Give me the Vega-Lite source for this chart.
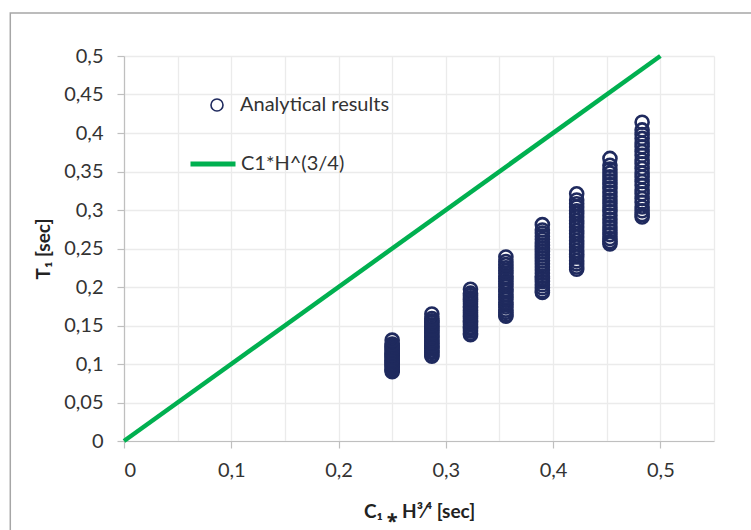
{
  "$schema": "https://vega.github.io/schema/vega-lite/v6.json",
  "width": 590,
  "height": 385,
  "autosize": {"type": "none"},
  "padding": {"left": 124, "top": 56, "right": 37, "bottom": 89},
  "background": "white",
  "config": {
    "view": {"stroke": null},
    "font": "Lato",
    "axis": {
      "labelFont": "Lato", "labelFontSize": 20, "labelColor": "#333333", "labelOverlap": false,
      "titleFont": "Lato", "titleFontSize": 19, "titleFontWeight": "bold", "titleColor": "#222222",
      "domainColor": "#BFBFBF", "domainWidth": 1.2,
      "tickColor": "#BFBFBF", "tickWidth": 1.2, "tickSize": 7,
      "gridColor": "#EBEBEB", "gridWidth": 1.3
    },
    "legend": {"labelFont": "Lato", "labelFontSize": 20, "labelColor": "#333333", "padding": 0}
  },
  "datasets": {
    "points": [
      {"series":"Analytical results","x":0.25,"y":0.090},{"series":"Analytical results","x":0.25,"y":0.092},{"series":"Analytical results","x":0.25,"y":0.093},{"series":"Analytical results","x":0.25,"y":0.095},{"series":"Analytical results","x":0.25,"y":0.097},{"series":"Analytical results","x":0.25,"y":0.099},{"series":"Analytical results","x":0.25,"y":0.100},{"series":"Analytical results","x":0.25,"y":0.102},{"series":"Analytical results","x":0.25,"y":0.104},{"series":"Analytical results","x":0.25,"y":0.105},{"series":"Analytical results","x":0.25,"y":0.107},{"series":"Analytical results","x":0.25,"y":0.109},{"series":"Analytical results","x":0.25,"y":0.111},{"series":"Analytical results","x":0.25,"y":0.112},{"series":"Analytical results","x":0.25,"y":0.114},{"series":"Analytical results","x":0.25,"y":0.116},{"series":"Analytical results","x":0.25,"y":0.118},{"series":"Analytical results","x":0.25,"y":0.120},{"series":"Analytical results","x":0.25,"y":0.122},{"series":"Analytical results","x":0.25,"y":0.124},{"series":"Analytical results","x":0.25,"y":0.126},{"series":"Analytical results","x":0.25,"y":0.131},
      {"series":"Analytical results","x":0.287,"y":0.110},{"series":"Analytical results","x":0.287,"y":0.112},{"series":"Analytical results","x":0.287,"y":0.115},{"series":"Analytical results","x":0.287,"y":0.117},{"series":"Analytical results","x":0.287,"y":0.120},{"series":"Analytical results","x":0.287,"y":0.122},{"series":"Analytical results","x":0.287,"y":0.124},{"series":"Analytical results","x":0.287,"y":0.127},{"series":"Analytical results","x":0.287,"y":0.129},{"series":"Analytical results","x":0.287,"y":0.131},{"series":"Analytical results","x":0.287,"y":0.134},{"series":"Analytical results","x":0.287,"y":0.136},{"series":"Analytical results","x":0.287,"y":0.139},{"series":"Analytical results","x":0.287,"y":0.141},{"series":"Analytical results","x":0.287,"y":0.144},{"series":"Analytical results","x":0.287,"y":0.146},{"series":"Analytical results","x":0.287,"y":0.149},{"series":"Analytical results","x":0.287,"y":0.151},{"series":"Analytical results","x":0.287,"y":0.154},{"series":"Analytical results","x":0.287,"y":0.156},{"series":"Analytical results","x":0.287,"y":0.159},{"series":"Analytical results","x":0.287,"y":0.165},
      {"series":"Analytical results","x":0.323,"y":0.138},{"series":"Analytical results","x":0.323,"y":0.140},{"series":"Analytical results","x":0.323,"y":0.143},{"series":"Analytical results","x":0.323,"y":0.146},{"series":"Analytical results","x":0.323,"y":0.148},{"series":"Analytical results","x":0.323,"y":0.151},{"series":"Analytical results","x":0.323,"y":0.154},{"series":"Analytical results","x":0.323,"y":0.156},{"series":"Analytical results","x":0.323,"y":0.159},{"series":"Analytical results","x":0.323,"y":0.162},{"series":"Analytical results","x":0.323,"y":0.164},{"series":"Analytical results","x":0.323,"y":0.167},{"series":"Analytical results","x":0.323,"y":0.170},{"series":"Analytical results","x":0.323,"y":0.173},{"series":"Analytical results","x":0.323,"y":0.175},{"series":"Analytical results","x":0.323,"y":0.178},{"series":"Analytical results","x":0.323,"y":0.181},{"series":"Analytical results","x":0.323,"y":0.184},{"series":"Analytical results","x":0.323,"y":0.186},{"series":"Analytical results","x":0.323,"y":0.189},{"series":"Analytical results","x":0.323,"y":0.192},{"series":"Analytical results","x":0.323,"y":0.197},
      {"series":"Analytical results","x":0.356,"y":0.162},{"series":"Analytical results","x":0.356,"y":0.164},{"series":"Analytical results","x":0.356,"y":0.167},{"series":"Analytical results","x":0.356,"y":0.170},{"series":"Analytical results","x":0.356,"y":0.174},{"series":"Analytical results","x":0.356,"y":0.177},{"series":"Analytical results","x":0.356,"y":0.180},{"series":"Analytical results","x":0.356,"y":0.184},{"series":"Analytical results","x":0.356,"y":0.187},{"series":"Analytical results","x":0.356,"y":0.190},{"series":"Analytical results","x":0.356,"y":0.194},{"series":"Analytical results","x":0.356,"y":0.197},{"series":"Analytical results","x":0.356,"y":0.201},{"series":"Analytical results","x":0.356,"y":0.204},{"series":"Analytical results","x":0.356,"y":0.207},{"series":"Analytical results","x":0.356,"y":0.211},{"series":"Analytical results","x":0.356,"y":0.214},{"series":"Analytical results","x":0.356,"y":0.218},{"series":"Analytical results","x":0.356,"y":0.221},{"series":"Analytical results","x":0.356,"y":0.225},{"series":"Analytical results","x":0.356,"y":0.229},{"series":"Analytical results","x":0.356,"y":0.233},{"series":"Analytical results","x":0.356,"y":0.239},
      {"series":"Analytical results","x":0.39,"y":0.193},{"series":"Analytical results","x":0.39,"y":0.195},{"series":"Analytical results","x":0.39,"y":0.199},{"series":"Analytical results","x":0.39,"y":0.203},{"series":"Analytical results","x":0.39,"y":0.207},{"series":"Analytical results","x":0.39,"y":0.211},{"series":"Analytical results","x":0.39,"y":0.214},{"series":"Analytical results","x":0.39,"y":0.218},{"series":"Analytical results","x":0.39,"y":0.222},{"series":"Analytical results","x":0.39,"y":0.226},{"series":"Analytical results","x":0.39,"y":0.230},{"series":"Analytical results","x":0.39,"y":0.234},{"series":"Analytical results","x":0.39,"y":0.238},{"series":"Analytical results","x":0.39,"y":0.242},{"series":"Analytical results","x":0.39,"y":0.246},{"series":"Analytical results","x":0.39,"y":0.250},{"series":"Analytical results","x":0.39,"y":0.254},{"series":"Analytical results","x":0.39,"y":0.258},{"series":"Analytical results","x":0.39,"y":0.262},{"series":"Analytical results","x":0.39,"y":0.266},{"series":"Analytical results","x":0.39,"y":0.270},{"series":"Analytical results","x":0.39,"y":0.274},{"series":"Analytical results","x":0.39,"y":0.281},
      {"series":"Analytical results","x":0.422,"y":0.223},{"series":"Analytical results","x":0.422,"y":0.226},{"series":"Analytical results","x":0.422,"y":0.230},{"series":"Analytical results","x":0.422,"y":0.234},{"series":"Analytical results","x":0.422,"y":0.239},{"series":"Analytical results","x":0.422,"y":0.243},{"series":"Analytical results","x":0.422,"y":0.247},{"series":"Analytical results","x":0.422,"y":0.252},{"series":"Analytical results","x":0.422,"y":0.256},{"series":"Analytical results","x":0.422,"y":0.260},{"series":"Analytical results","x":0.422,"y":0.265},{"series":"Analytical results","x":0.422,"y":0.269},{"series":"Analytical results","x":0.422,"y":0.273},{"series":"Analytical results","x":0.422,"y":0.278},{"series":"Analytical results","x":0.422,"y":0.282},{"series":"Analytical results","x":0.422,"y":0.286},{"series":"Analytical results","x":0.422,"y":0.291},{"series":"Analytical results","x":0.422,"y":0.295},{"series":"Analytical results","x":0.422,"y":0.299},{"series":"Analytical results","x":0.422,"y":0.304},{"series":"Analytical results","x":0.422,"y":0.308},{"series":"Analytical results","x":0.422,"y":0.313},{"series":"Analytical results","x":0.422,"y":0.321},
      {"series":"Analytical results","x":0.453,"y":0.256},{"series":"Analytical results","x":0.453,"y":0.259},{"series":"Analytical results","x":0.453,"y":0.263},{"series":"Analytical results","x":0.453,"y":0.268},{"series":"Analytical results","x":0.453,"y":0.273},{"series":"Analytical results","x":0.453,"y":0.278},{"series":"Analytical results","x":0.453,"y":0.283},{"series":"Analytical results","x":0.453,"y":0.288},{"series":"Analytical results","x":0.453,"y":0.293},{"series":"Analytical results","x":0.453,"y":0.298},{"series":"Analytical results","x":0.453,"y":0.303},{"series":"Analytical results","x":0.453,"y":0.308},{"series":"Analytical results","x":0.453,"y":0.313},{"series":"Analytical results","x":0.453,"y":0.318},{"series":"Analytical results","x":0.453,"y":0.323},{"series":"Analytical results","x":0.453,"y":0.328},{"series":"Analytical results","x":0.453,"y":0.333},{"series":"Analytical results","x":0.453,"y":0.338},{"series":"Analytical results","x":0.453,"y":0.343},{"series":"Analytical results","x":0.453,"y":0.348},{"series":"Analytical results","x":0.453,"y":0.353},{"series":"Analytical results","x":0.453,"y":0.358},{"series":"Analytical results","x":0.453,"y":0.367},
      {"series":"Analytical results","x":0.483,"y":0.291},{"series":"Analytical results","x":0.483,"y":0.294},{"series":"Analytical results","x":0.483,"y":0.299},{"series":"Analytical results","x":0.483,"y":0.304},{"series":"Analytical results","x":0.483,"y":0.310},{"series":"Analytical results","x":0.483,"y":0.315},{"series":"Analytical results","x":0.483,"y":0.321},{"series":"Analytical results","x":0.483,"y":0.326},{"series":"Analytical results","x":0.483,"y":0.332},{"series":"Analytical results","x":0.483,"y":0.337},{"series":"Analytical results","x":0.483,"y":0.343},{"series":"Analytical results","x":0.483,"y":0.348},{"series":"Analytical results","x":0.483,"y":0.354},{"series":"Analytical results","x":0.483,"y":0.360},{"series":"Analytical results","x":0.483,"y":0.365},{"series":"Analytical results","x":0.483,"y":0.371},{"series":"Analytical results","x":0.483,"y":0.376},{"series":"Analytical results","x":0.483,"y":0.382},{"series":"Analytical results","x":0.483,"y":0.387},{"series":"Analytical results","x":0.483,"y":0.393},{"series":"Analytical results","x":0.483,"y":0.398},{"series":"Analytical results","x":0.483,"y":0.404},{"series":"Analytical results","x":0.483,"y":0.414}
    ],
    "line": [
      {"series":"C1*H^(3/4)","x":0,"y":0},
      {"series":"C1*H^(3/4)","x":0.5,"y":0.5}
    ]
  },
  "layer": [
    {
      "data": {"name": "line"},
      "mark": {"type": "line", "strokeWidth": 4.5, "clip": false},
      "encoding": {
        "x": {
          "field": "x", "type": "quantitative",
          "scale": {"domain": [0, 0.55], "nice": false},
          "axis": {
            "values": [0, 0.05, 0.1, 0.15, 0.2, 0.25, 0.3, 0.35, 0.4, 0.45, 0.5, 0.55],
            "labelExpr": "round(datum.value*100) % 10 == 0 ? replace(format(datum.value, '.2~f'), '.', ',') : ''",
            "tickOpacity": {"condition": {"test": "round(datum.value*100) % 10 != 0", "value": 0}, "value": 1},
            "labelPadding": 12,
            "labelOverlap": false,
            "title": "C₁ ⁎ H³⁄⁴ [sec]",
            "titlePadding": 22
          }
        },
        "y": {
          "field": "y", "type": "quantitative",
          "scale": {"domain": [0, 0.5], "nice": false},
          "axis": {
            "values": [0, 0.05, 0.1, 0.15, 0.2, 0.25, 0.3, 0.35, 0.4, 0.45, 0.5],
            "tickCount": 11,
            "labelExpr": "replace(format(datum.value, '.2~f'), '.', ',')",
            "labelOverlap": false,
            "labelBound": false,
            "labelPadding": 14,
            "title": "T₁ [sec]",
            "titlePadding": 10
          }
        },
        "color": {
          "field": "series", "type": "nominal",
          "scale": {"range": ["#00B050"]},
          "legend": {
            "title": null, "orient": "none", "legendX": 64, "legendY": 83,
            "symbolType": "stroke", "symbolSize": 2025, "symbolStrokeWidth": 5,
            "labelOffset": 3
          }
        }
      }
    },
    {
      "data": {"name": "points"},
      "mark": {"type": "point", "filled": false, "color": "#1F2A5E", "strokeWidth": 2.6, "size": 170, "opacity": 1},
      "encoding": {
        "x": {"field": "x", "type": "quantitative"},
        "y": {"field": "y", "type": "quantitative"},
        "shape": {
          "field": "series", "type": "nominal",
          "scale": {"range": ["circle"]},
          "legend": {
            "title": null, "orient": "none", "legendX": 83, "legendY": 39,
            "symbolSize": 144, "symbolStrokeColor": "#1F2A5E", "symbolFillColor": "transparent",
            "symbolStrokeWidth": 1.6, "labelOffset": 13
          }
        }
      }
    },
    {
      "data": {"values": [{"frame": 1}]},
      "mark": {"type": "rect", "fill": null, "stroke": "#A6A6A6", "strokeWidth": 1.5, "clip": false},
      "encoding": {
        "x": {"datum": -0.106, "type": "quantitative"},
        "x2": {"datum": 0.7},
        "y": {"datum": 0.556, "type": "quantitative"},
        "y2": {"datum": -0.25}
      }
    }
  ]
}
